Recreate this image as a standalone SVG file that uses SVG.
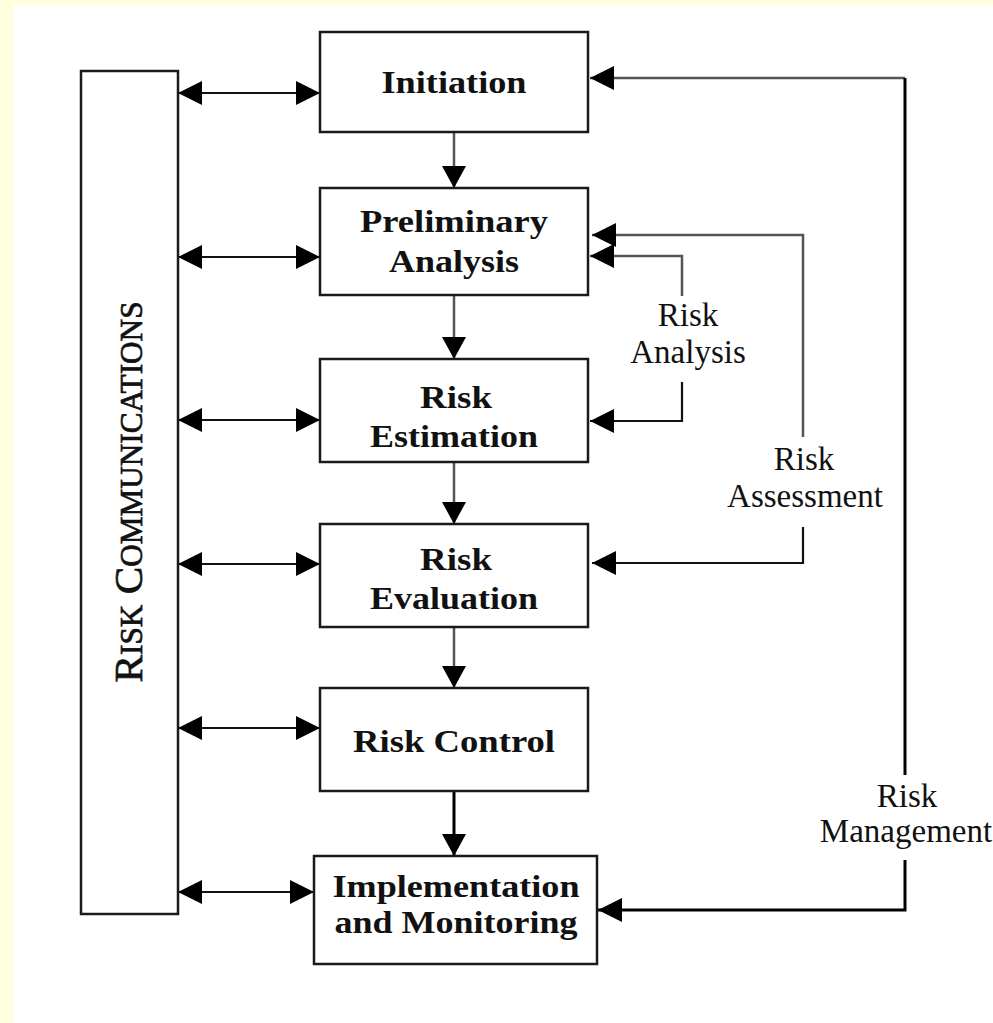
<svg xmlns="http://www.w3.org/2000/svg" width="993" height="1023" viewBox="0 0 993 1023">
<style>
.box{fill:#fff;stroke:#1a1a1a;stroke-width:2.5}
.bt{font-family:"Liberation Serif","Times New Roman",serif;font-weight:bold;font-size:32px;fill:#111;text-anchor:middle}
.lt{font-family:"Liberation Serif","Times New Roman",serif;font-size:33px;fill:#111;text-anchor:middle}
.c{fill:none;stroke:#111;stroke-width:2.2}
.g{fill:none;stroke:#555;stroke-width:2.5}
.k{fill:none;stroke:#000;stroke-width:3}
</style>
<defs>
<marker id="ah" markerUnits="userSpaceOnUse" markerWidth="26" markerHeight="24" refX="24" refY="12" orient="auto-start-reverse" viewBox="0 0 26 24">
<path d="M0,0 L24,12 L0,24 z" fill="#000"/>
</marker>
<marker id="av" markerUnits="userSpaceOnUse" markerWidth="24" markerHeight="26" refX="22" refY="12" orient="auto" viewBox="0 0 24 26">
<path d="M0,0 L22,12 L0,24 z" fill="#000"/>
</marker>
</defs>
<rect x="0" y="0" width="993" height="1023" fill="#ffffdd"/>
<rect x="13" y="5" width="980" height="1018" fill="#fff"/>

<g id="connectors">
<path class="c" d="M178,93 H320" marker-start="url(#ah)" marker-end="url(#ah)"/>
<path class="c" d="M178,257 H320" marker-start="url(#ah)" marker-end="url(#ah)"/>
<path class="c" d="M178,420 H320" marker-start="url(#ah)" marker-end="url(#ah)"/>
<path class="c" d="M178,564 H320" marker-start="url(#ah)" marker-end="url(#ah)"/>
<path class="c" d="M178,728 H320" marker-start="url(#ah)" marker-end="url(#ah)"/>
<path class="c" d="M178,892 H314" marker-start="url(#ah)" marker-end="url(#ah)"/>
<path class="g" d="M454,132 V188" marker-end="url(#av)"/>
<path class="g" d="M454,295 V359" marker-end="url(#av)"/>
<path class="g" d="M454,462 V524" marker-end="url(#av)"/>
<path class="g" d="M454,627 V688" marker-end="url(#av)"/>
<path class="k" d="M454,791 V856" marker-end="url(#av)"/>
<path class="g" d="M682,296 V256 H590" marker-end="url(#ah)"/>
<path class="c" d="M682,382 V421 H590" marker-end="url(#ah)"/>
<path class="g" d="M803,437 V235 H592" marker-end="url(#ah)"/>
<path class="c" d="M803,527 V563 H592" marker-end="url(#ah)"/>
<path class="g" d="M905,78 H590" marker-end="url(#ah)"/>
<path class="k" d="M905,775 V78"/>
<path class="k" d="M905,860 V910 H598" marker-end="url(#ah)"/>
</g>

<g id="risk-communications">
<rect class="box" x="81" y="71" width="97" height="843"/>
<text transform="translate(142,492) rotate(-90)" font-family="'Liberation Serif','Times New Roman',serif" font-size="41" fill="#111" stroke="#111" stroke-width="0.7" text-anchor="middle" textLength="381" lengthAdjust="spacingAndGlyphs">R<tspan font-size="31">ISK</tspan> C<tspan font-size="31">OMMUNICATIONS</tspan></text>
</g>

<g id="initiation">
<rect class="box" x="320" y="32" width="268" height="100"/>
<text class="bt" x="454" y="93" textLength="145" lengthAdjust="spacingAndGlyphs">Initiation</text>
</g>

<g id="preliminary-analysis">
<rect class="box" x="320" y="188" width="268" height="107"/>
<text class="bt" x="454" y="232" textLength="188" lengthAdjust="spacingAndGlyphs">Preliminary</text>
<text class="bt" x="454" y="272" textLength="130" lengthAdjust="spacingAndGlyphs">Analysis</text>
</g>

<g id="risk-estimation">
<rect class="box" x="320" y="359" width="268" height="103"/>
<text class="bt" x="456" y="408" textLength="72" lengthAdjust="spacingAndGlyphs">Risk</text>
<text class="bt" x="454" y="447" textLength="168" lengthAdjust="spacingAndGlyphs">Estimation</text>
</g>

<g id="risk-evaluation">
<rect class="box" x="320" y="524" width="268" height="103"/>
<text class="bt" x="456" y="570" textLength="72" lengthAdjust="spacingAndGlyphs">Risk</text>
<text class="bt" x="454" y="609" textLength="168" lengthAdjust="spacingAndGlyphs">Evaluation</text>
</g>

<g id="risk-control">
<rect class="box" x="320" y="688" width="268" height="103"/>
<text class="bt" x="454" y="752" textLength="202" lengthAdjust="spacingAndGlyphs">Risk Control</text>
</g>

<g id="implementation-monitoring">
<rect class="box" x="314" y="856" width="283" height="108"/>
<text class="bt" x="456" y="897" textLength="247" lengthAdjust="spacingAndGlyphs">Implementation</text>
<text class="bt" x="456" y="933" textLength="243" lengthAdjust="spacingAndGlyphs">and Monitoring</text>
</g>

<g id="labels">
<text class="lt" x="688" y="326">Risk</text>
<text class="lt" x="688" y="363">Analysis</text>
<text class="lt" x="804" y="470">Risk</text>
<text class="lt" x="805" y="507">Assessment</text>
<text class="lt" x="907" y="807">Risk</text>
<text class="lt" x="906" y="842">Management</text>
</g>
</svg>
